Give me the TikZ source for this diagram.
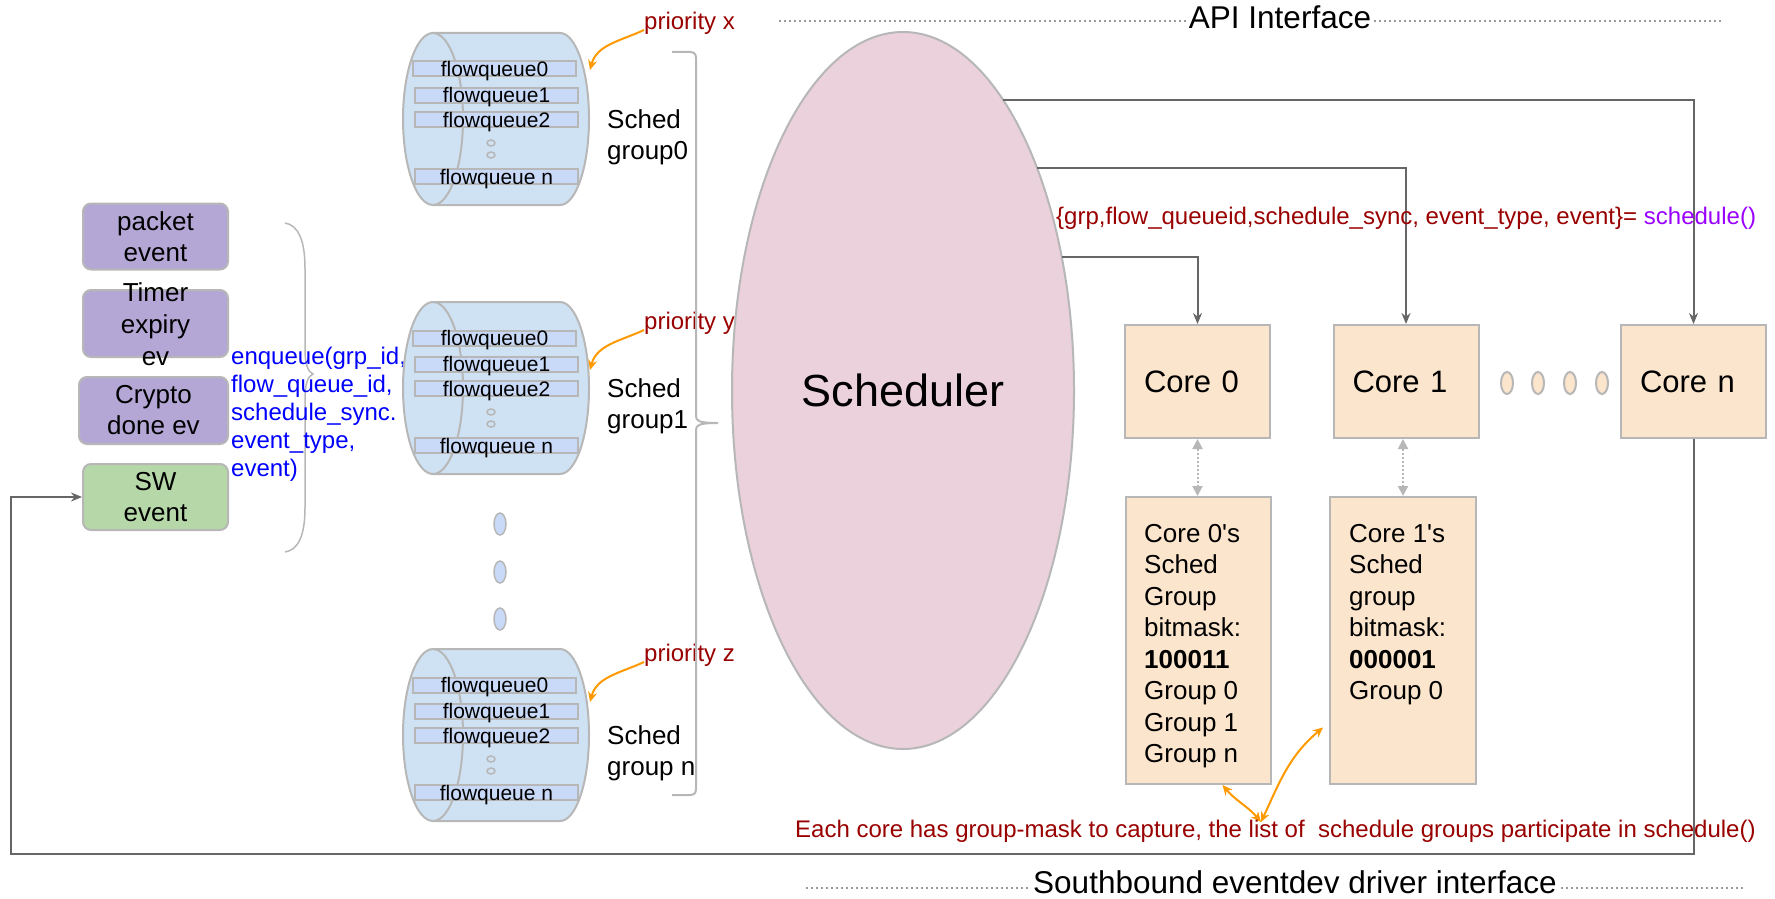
\documentclass[tikz,border=0pt]{standalone}
\usepackage{fontspec}
\setmainfont{Liberation Sans}[Ligatures=TeXOff]
\usetikzlibrary{arrows.meta,shapes.geometric,calc}

\definecolor{evpurple}{HTML}{B4A7D6}
\definecolor{evgreen}{HTML}{B6D7A8}
\definecolor{edgegray}{HTML}{B7B7B7}
\definecolor{linegray}{HTML}{666666}
\definecolor{cylblue}{HTML}{CFE2F3}
\definecolor{barblue}{HTML}{C9DAF8}
\definecolor{corepeach}{HTML}{FCE5CD}
\definecolor{schedpink}{HTML}{EAD1DC}
\definecolor{darkred}{HTML}{990000}
\definecolor{callblue}{HTML}{0000FF}
\definecolor{callpurple}{HTML}{9900FF}
\definecolor{arroworange}{HTML}{FF9900}
\definecolor{dotgray}{HTML}{999999}

\begin{document}
\begin{tikzpicture}[x=1pt,y=1pt,
  evbox/.style={draw=edgegray, line width=2pt, rounded corners=8pt, fill=evpurple,
    minimum width=145pt, minimum height=66pt, inner sep=0pt, align=center,
    font=\fontsize{26}{31}\selectfont},
  evtext/.style={align=center, inner sep=0pt, font=\fontsize{26}{32}\selectfont},
  cylbody/.style={draw=edgegray, line width=2pt, fill=cylblue},
  fqbar/.style={draw=edgegray, line width=2pt, fill=barblue, minimum width=163pt,
    minimum height=15pt, text height=15pt, text depth=0pt, inner sep=0pt,
    font=\fontsize{21}{21}\selectfont},
  groupname/.style={anchor=north west, align=left, inner sep=0pt,
    font=\fontsize{26}{31}\selectfont},
  prio/.style={anchor=west, inner sep=0pt, text=darkred, font=\fontsize{24}{28}\selectfont},
  prioarrow/.style={draw=arroworange, line width=2pt, -{Stealth[length=10pt,width=9pt]}},
  schedshape/.style={ellipse, draw=edgegray, line width=2pt, fill=schedpink,
    minimum width=342pt, minimum height=717pt, inner sep=0pt, outer sep=0pt,
    font=\fontsize{45}{54}\selectfont},
  corebox/.style={draw=edgegray, line width=2pt, fill=corepeach, minimum width=145pt,
    minimum height=113pt, text width=107pt, inner xsep=19pt, inner ysep=0pt,
    align=left, font=\fontsize{31}{36}\selectfont},
  maskbox/.style={draw=edgegray, line width=2pt, fill=corepeach, minimum width=145pt,
    minimum height=287pt, inner sep=0pt},
  masktext/.style={anchor=north west, align=left, inner sep=0pt,
    font=\fontsize{26}{31.5}\selectfont},
  peachdot/.style={ellipse, draw=edgegray, line width=2pt, fill=corepeach,
    minimum width=12pt, minimum height=22pt, inner sep=0pt},
  bluedot/.style={ellipse, draw=edgegray, line width=1.5pt, fill=barblue,
    minimum width=12pt, minimum height=22pt, inner sep=0pt},
  conn/.style={draw=linegray, line width=2pt, -{Stealth[length=11pt,width=9pt]}},
  dotlink/.style={draw=edgegray, line width=2pt, dotted,
    {Triangle[length=10pt,width=10pt]}-{Triangle[length=10pt,width=10pt]}},
  orangelink/.style={draw=arroworange, line width=2pt,
    {Stealth[length=10pt,width=9pt]}-{Stealth[length=10pt,width=9pt]}},
  bracegray/.style={draw=edgegray, line width=2pt},
  iface/.style={fill=white, inner xsep=3pt, inner ysep=1pt, font=\fontsize{31.5}{36}\selectfont},
  ifaceline/.style={draw=dotgray, line width=1.5pt, dash pattern=on 1.5pt off 3.5pt},
  calltext/.style={anchor=west, inner sep=0pt, text=darkred, font=\fontsize{24}{28}\selectfont},
  flowcyl/.pic={
    \draw[cylbody] (30,0) -- (157,0)
      arc[start angle=90, end angle=-90, x radius=29, y radius=86] -- (30,-172)
      arc[start angle=270, end angle=90, x radius=30, y radius=86] -- cycle;
    \draw[edgegray, line width=2pt] (30,0) arc[start angle=90, end angle=-90, x radius=30, y radius=86];
    \node[fqbar] (-fq0) at (91.5,-36) {flowqueue0};
    \node[fqbar] (-fq1) at (93.5,-62) {flowqueue1};
    \node[fqbar] (-fq2) at (93.5,-86.5) {flowqueue2};
    \draw[edgegray, line width=1.5pt] (88,-110) ellipse [x radius=4, y radius=3];
    \draw[edgegray, line width=1.5pt] (88,-122) ellipse [x radius=4, y radius=3];
    \node[fqbar] (-fqn) at (93.5,-143.5) {flowqueue n};
  }
]
\useasboundingbox (0,0) rectangle (1775,-899);

% interface bands
\draw[ifaceline] (779,-21) -- (1723,-21);
\node[iface] (api) at (1280,-17) {API Interface};
\draw[ifaceline] (806,-888) -- (1743,-888);
\node[iface] (south) at (1295,-882) {Southbound eventdev driver interface};

% event sources
\node[evbox] (packet) at (155.5,-236.5) {packet\\event};
\node[evbox, minimum height=67pt] (timer) at (155.5,-323.5) {};
\node[evtext] (timertxt) at (155.5,-324) {Timer\\expiry\\ev};
\node[evbox, minimum width=149pt, minimum height=67pt] (crypto) at (153.5,-410.5) {Crypto\\done ev};
\node[evbox, fill=evgreen] (sw) at (155.5,-497) {SW\\event};

% brace grouping the sources
\draw[bracegray, line width=1.5pt] (285,-223) .. controls (298,-225) and (305,-240) .. (305,-268)
  -- (305,-350) .. controls (305,-364) and (308,-372) .. (313,-374)
  .. controls (308,-376) and (305,-384) .. (305,-398)
  -- (305,-508) .. controls (305,-536) and (298,-550) .. (285,-552);

\node[anchor=north west, align=left, inner sep=0pt, text=callblue,
  font=\fontsize{24}{28}\selectfont] (enq) at (231,-346.5)
  {enqueue(grp\_id,\\flow\_queue\_id,\\schedule\_sync.\\event\_type,\\event)};

% schedule groups
\pic (g0) at (403,-33) {flowcyl};
\pic (g1) at (403,-302) {flowcyl};
\pic (g2) at (403,-649) {flowcyl};

\node[bluedot] (vd1) at (500,-524) {};
\node[bluedot] (vd2) at (500,-572) {};
\node[bluedot] (vd3) at (500,-619) {};

\node[groupname] (sg0) at (607,-109) {Sched\\group0};
\node[groupname] (sg1) at (607,-378) {Sched\\group1};
\node[groupname] (sgn) at (607,-725) {Sched\\group n};

\node[prio] (prx) at (644,-23) {priority x};
\node[prio] (pry) at (644,-323) {priority y};
\node[prio] (prz) at (644,-655) {priority z};
\coordinate (g0tip) at (590,-70);
\coordinate (g1tip) at (590,-370);
\coordinate (g2tip) at (590,-702);
\draw[prioarrow] ([yshift=-7pt]prx.west) to[out=205, in=75] (g0tip);
\draw[prioarrow] ([yshift=-7pt]pry.west) to[out=205, in=75] (g1tip);
\draw[prioarrow] ([yshift=-7pt]prz.west) to[out=205, in=75] (g2tip);

% bracket collecting the groups
\draw[bracegray] (672,-52) -- (690,-52) .. controls (694,-52) and (696,-54) .. (696,-58)
  -- (696,-416) .. controls (696,-421) and (699,-423) .. (718,-423)
  .. controls (699,-423) and (696,-425) .. (696,-430)
  -- (696,-789) .. controls (696,-793) and (694,-795) .. (690,-795) -- (672,-795);

% scheduler
\node[schedshape] (sched) at (903,-390.5) {Scheduler};

% cores
\node[corebox] (core0) at (1197.5,-381.5) {Core 0};
\node[corebox] (core1) at (1406,-381.5) {Core 1};
\node[corebox] (coren) at (1693.5,-381.5) {Core n};
\node[peachdot] (cd1) at (1507,-383) {};
\node[peachdot] (cd2) at (1538,-383) {};
\node[peachdot] (cd3) at (1570,-383) {};
\node[peachdot] (cd4) at (1602,-383) {};

\draw[conn] (sched.71.2) -| (coren.north);
\draw[conn] (sched.59) -| (core1.north);
\draw[conn] (sched.40.8) -| (core0.north);

\node[calltext] (schedcall) at (1056,-218)
  {\{grp,flow\_queueid,schedule\_sync, event\_type, event\}= \textcolor{callpurple}{schedule()}};

% per-core group masks
\node[maskbox] (mask0) at (1198.5,-640.5) {};
\node[maskbox, minimum width=146pt] (mask1) at (1403,-640.5) {};
\node[masktext] (mask0txt) at (1144,-524)
  {Core 0's\\Sched\\Group\\bitmask:\\\textbf{100011}\\Group 0\\Group 1\\Group n};
\node[masktext] (mask1txt) at (1349,-524)
  {Core 1's\\Sched\\group\\bitmask:\\\textbf{000001}\\Group 0};

\draw[dotlink] (core0.south) -- (core0.south |- mask0.north);
\draw[dotlink] (mask1.north |- core1.south) -- (mask1.north);

\coordinate (meet) at (1261,-822);
\draw[orangelink] (meet) to[out=130, in=-50] ([xshift=24pt]mask0.south);
\draw[orangelink] (meet) to[out=65, in=-140] ([xshift=-6pt,yshift=-87pt]mask1.west);

\node[calltext] (masknote) at (795,-831)
  {Each core has group-mask to capture, the list of\ \ schedule groups participate in schedule()};

% feedback loop back to the software event source
\coordinate (loopcorner) at (11,-854);
\draw[conn] (coren.south) |- (loopcorner) |- (sw.west);
\end{tikzpicture}
\end{document}
